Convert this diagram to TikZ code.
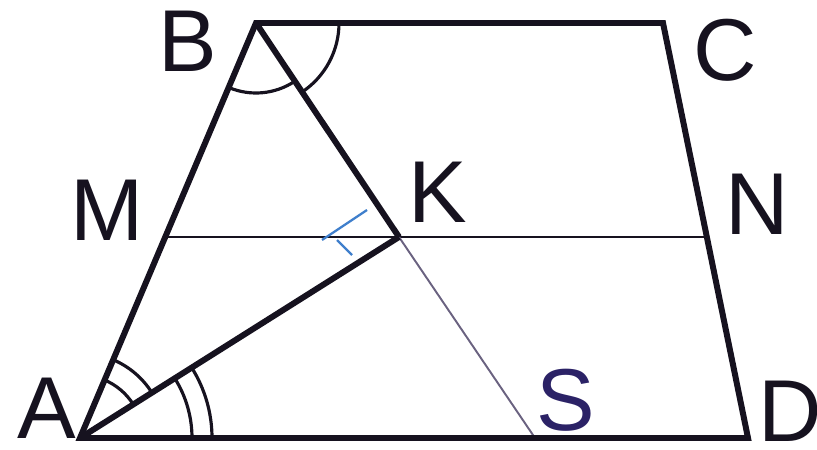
\documentclass[tikz,border=0pt]{standalone}
\usepackage{fontspec}
\setmainfont{Liberation Sans}
\definecolor{ink}{HTML}{16121F}
\definecolor{thinink}{HTML}{6A6280}
\definecolor{sink}{HTML}{2B2266}
\definecolor{markblue}{HTML}{3F7FCC}
\tikzset{
  side/.style={draw=ink, line width=3.4pt, line join=miter},
  midline/.style={draw=ink, line width=1.7pt},
  anglemark/.style={draw=ink, line width=1.8pt},
  lbl/.style={inner sep=0pt, text=ink, font=\fontsize{50}{50}\selectfont}
}
\begin{document}
\begin{tikzpicture}[x=0.2mm, y=0.2mm]
  \useasboundingbox (0,0) rectangle (817,449);
  \coordinate (A) at (80,11);
  \coordinate (B) at (256,426);
  \coordinate (C) at (663,426);
  \coordinate (D) at (748,11);
  \coordinate (M) at (165,212);
  \coordinate (N) at (707,212);
  \coordinate (K) at (399,212);
  \coordinate (S) at (535,11);
  % labels
  \node[lbl] (lA) at (47,41) {A};
  \node[lbl] (lB) at (188,408) {B};
  \node[lbl] (lC) at (725,399) {C};
  \node[lbl] (lD) at (790,38) {D};
  \node[lbl] (lM) at (107,239) {M};
  \node[lbl] (lN) at (757,245) {N};
  \node[lbl] (lK) at (438,257) {K};
  \node[lbl, text=sink] (lS) at (566,49) {S};
  % lines
  \draw[midline] (M) -- (N);
  \draw[draw=thinink, line width=1.1pt] (K) -- (S);
  \draw[side] (A) -- (K);
  \draw[side] (B) -- (K);
  \draw[side] (A) -- (B) -- (C) -- (D) -- cycle;
  % angles
  \draw[anglemark] ([shift={(32.3:12.6mm)}]A) arc[start angle=32.3, end angle=67, radius=12.6mm];
  \draw[anglemark] ([shift={(32.3:17mm)}]A) arc[start angle=32.3, end angle=67, radius=17mm];
  \draw[anglemark] ([shift={(0:22.4mm)}]A) arc[start angle=0, end angle=32.3, radius=22.4mm];
  \draw[anglemark] ([shift={(0:26.4mm)}]A) arc[start angle=0, end angle=32.3, radius=26.4mm];
  \draw[anglemark] ([shift={(247:14mm)}]B) arc[start angle=247, end angle=303.75, radius=14mm];
  \draw[anglemark] ([shift={(303.75:16.6mm)}]B) arc[start angle=303.75, end angle=360, radius=16.6mm];
  % blue mark
  \draw[markblue, line width=1.3pt] (367,239) -- (322,209);
  \draw[markblue, line width=1.3pt] (337,209) -- (352,194);
\end{tikzpicture}
\end{document}
